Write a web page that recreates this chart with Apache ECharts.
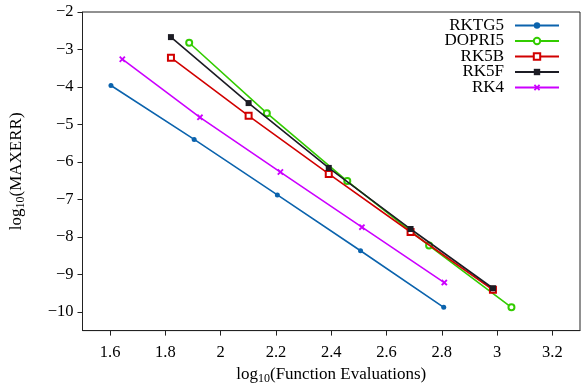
<!DOCTYPE html>
<html>
<head>
<meta charset="utf-8">
<script src="https://cdn.jsdelivr.net/npm/echarts@6/dist/echarts.min.js"></script>
<style>
html,body{margin:0;padding:0;background:#fff;}
#chart{width:581px;height:390px;}
</style>
</head>
<body>
<div id="chart"></div>
<script>
// ---- data ----
const seriesNames = ['RKTG5', 'DOPRI5', 'RK5B', 'RK5F', 'RK4'];
const xRKTG5  = [1.603, 1.904, 2.205, 2.506, 2.807];
const yRKTG5  = [-3.96, -5.40, -6.88, -8.37, -9.88];
const xDOPRI5 = [1.886, 2.167, 2.458, 2.754, 3.052];
const yDOPRI5 = [-2.82, -4.70, -6.51, -8.23, -9.88];
const xRK5B   = [1.820, 2.101, 2.391, 2.687, 2.985];
const yRK5B   = [-3.22, -4.77, -6.32, -7.87, -9.41];
const xRK5F   = [1.820, 2.101, 2.391, 2.687, 2.985];
const yRK5F   = [-2.67, -4.43, -6.16, -7.79, -9.37];
const xRK4    = [1.644, 1.925, 2.216, 2.511, 2.809];
const yRK4    = [-3.26, -4.81, -6.27, -7.74, -9.22];
const xTicks = [1.6, 1.8, 2.0, 2.2, 2.4, 2.6, 2.8, 3.0, 3.2];
const yTicks = [-10, -9, -8, -7, -6, -5, -4, -3, -2];

const FONT = "'Liberation Serif', 'Times New Roman', serif";
const pair = (xs, ys) => xs.map((x, i) => [x, ys[i]]);
const xMark = 'path://M2,0 L5,3 L8,0 L10,2 L7,5 L10,8 L8,10 L5,7 L2,10 L0,8 L3,5 L0,2 Z';

const styles = [
  {color: '#0b63ad', symbol: 'circle', symbolSize: 5, hollow: false},
  {color: '#33cc00', symbol: 'emptyCircle', symbolSize: 6, hollow: true},
  {color: '#d10000', symbol: 'emptyRect', symbolSize: 6, hollow: true},
  {color: '#1c1c24', symbol: 'rect', symbolSize: 6, hollow: false},
  {color: '#cc00ff', symbol: xMark, symbolSize: 6.5, hollow: false}
];
const datasets = [
  pair(xRKTG5, yRKTG5), pair(xDOPRI5, yDOPRI5), pair(xRK5B, yRK5B),
  pair(xRK5F, yRK5F), pair(xRK4, yRK4)
];

const series = seriesNames.map((name, i) => ({
  name: name,
  type: 'line',
  data: datasets[i],
  symbol: styles[i].symbol,
  symbolSize: styles[i].symbolSize,
  showAllSymbol: true,
  lineStyle: {color: styles[i].color, width: 1.6},
  itemStyle: {color: styles[i].color, borderColor: styles[i].color, borderWidth: styles[i].hollow ? 1.5 : 0},
  emphasis: {disabled: true},
  z: 2 + i
}));

const minusFmt = v => {
  const n = +(+v).toFixed(1);
  return n < 0 ? '\u2212' + Math.abs(n) : String(n);
};

const chart = echarts.init(document.getElementById('chart'), null, {renderer: 'canvas'});
chart.setOption({
  animation: false,
  backgroundColor: '#fff',
  grid: {left: 82, right: 1, top: 12, bottom: 57, show: true, borderColor: '#222', borderWidth: 1, backgroundColor: 'transparent'},
  legend: {
    orient: 'vertical',
    right: 21,
    top: 17,
    padding: 0,
    align: 'right',
    itemWidth: 44,
    itemHeight: 8,
    itemGap: -1.5,
    selectedMode: false,
    data: seriesNames,
    textStyle: {fontFamily: FONT, fontSize: 17, color: '#000', padding: [0, 6, 0, 0]}
  },
  xAxis: {
    type: 'value',
    min: 1.5,
    max: 3.3,
    name: '{n|log}{s|10}{n|(Function Evaluations)}',
    nameLocation: 'middle',
    nameGap: 30,
    nameTextStyle: {
      rich: {
        n: {fontFamily: FONT, fontSize: 17, color: '#000', lineHeight: 20, verticalAlign: 'middle'},
        s: {fontFamily: FONT, fontSize: 12, color: '#000', lineHeight: 11, verticalAlign: 'bottom'}
      }
    },
    axisLine: {show: true, lineStyle: {color: '#222', width: 1}},
    axisTick: {show: true, inside: false, length: 5, customValues: xTicks, lineStyle: {color: '#222', width: 1}},
    axisLabel: {customValues: xTicks, formatter: minusFmt, margin: 14, fontFamily: FONT, fontSize: 16.5, color: '#000'},
    splitLine: {show: false}
  },
  yAxis: {
    type: 'value',
    min: -10.5,
    max: -2,
    name: '{n|log}{s|10}{n|(MAXERR)}',
    nameLocation: 'middle',
    nameGap: 56,
    nameTextStyle: {
      rich: {
        n: {fontFamily: FONT, fontSize: 17, color: '#000', lineHeight: 20, verticalAlign: 'middle'},
        s: {fontFamily: FONT, fontSize: 12, color: '#000', lineHeight: 11, verticalAlign: 'bottom'}
      }
    },
    axisLine: {show: true, lineStyle: {color: '#222', width: 1}},
    axisTick: {show: true, inside: false, length: 5, customValues: yTicks, lineStyle: {color: '#222', width: 1}},
    axisLabel: {customValues: yTicks, formatter: minusFmt, margin: 9, fontFamily: FONT, fontSize: 16.5, color: '#000'},
    splitLine: {show: false}
  },
  series: series
});
</script>
</body>
</html>
